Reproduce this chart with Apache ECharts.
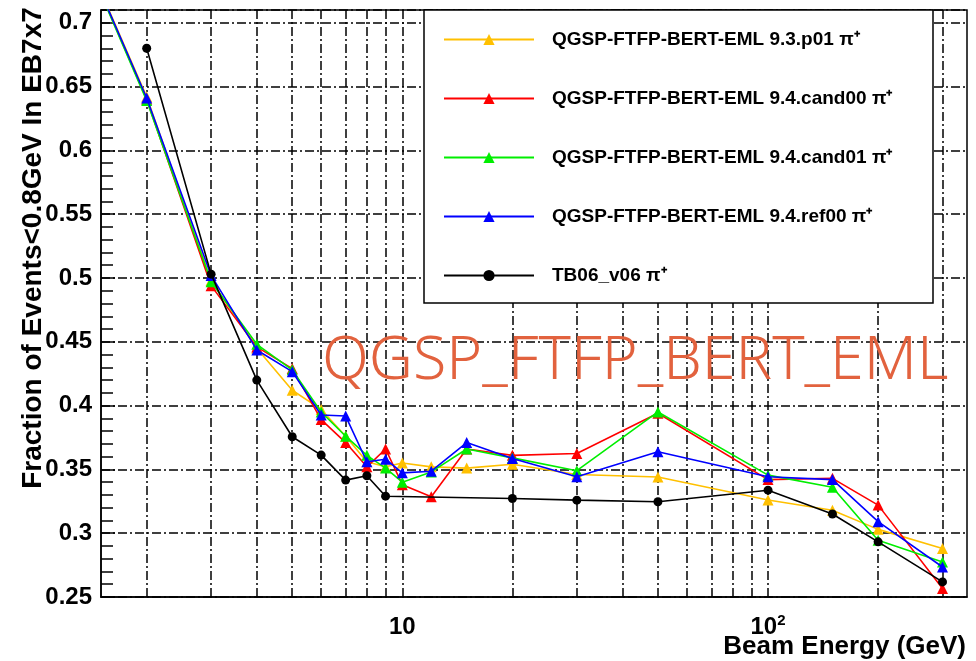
<!DOCTYPE html>
<html>
<head>
<meta charset="utf-8">
<script src="https://cdn.jsdelivr.net/npm/echarts@6/dist/echarts.min.js"></script>
<style>
  html, body { margin: 0; padding: 0; background: #fff; }
  #chart { width: 976px; height: 661px; }
</style>
</head>
<body>
<div id="chart"></div>
<script>
// Beam energies (GeV) for the simulated samples and for the test-beam data
const energies = [1, 2, 3, 4, 5, 6, 7, 8, 9, 10, 12, 15, 20, 30, 50, 100, 150, 200, 300];
const energiesTB = [2, 3, 4, 5, 6, 7, 8, 9, 20, 30, 50, 100, 150, 200, 300];

// Fraction of events with E < 0.8 GeV in EB7x7
const v93p01   = [0.84, 0.642, 0.498, 0.445, 0.412, 0.397, 0.376, 0.356, 0.352, 0.355, 0.352, 0.351, 0.354, 0.346, 0.344, 0.326, 0.318, 0.303, 0.288];
const v94cand00 = [0.84, 0.640, 0.494, 0.446, 0.429, 0.389, 0.371, 0.352, 0.366, 0.338, 0.3285, 0.366, 0.361, 0.3625, 0.394, 0.342, 0.343, 0.322, 0.2566];
const v94cand01 = [0.84, 0.639, 0.497, 0.448, 0.428, 0.395, 0.376, 0.361, 0.351, 0.340, 0.348, 0.366, 0.359, 0.349, 0.395, 0.3455, 0.336, 0.2945, 0.2775];
const v94ref00  = [0.84, 0.641, 0.502, 0.4436, 0.4266, 0.3926, 0.3918, 0.356, 0.358, 0.3473, 0.3486, 0.371, 0.3586, 0.3442, 0.3638, 0.3442, 0.342, 0.309, 0.2735];
const vTB06     = [0.680, 0.503, 0.420, 0.3756, 0.3612, 0.3416, 0.345, 0.329, 0.3272, 0.3259, 0.3246, 0.3337, 0.315, 0.2932, 0.2618];

const seriesNames = [
  'QGSP-FTFP-BERT-EML 9.3.p01 π⁺',
  'QGSP-FTFP-BERT-EML 9.4.cand00 π⁺',
  'QGSP-FTFP-BERT-EML 9.4.cand01 π⁺',
  'QGSP-FTFP-BERT-EML 9.4.ref00 π⁺',
  'TB06_v06 π⁺'
];
const seriesColors = ['#ffc000', '#ff0000', '#00ee00', '#0000ff', '#000000'];

// Vertical grid positions on the log axis
const gridEnergies = [2, 3, 4, 5, 6, 7, 8, 9, 10, 20, 30, 40, 50, 60, 70, 80, 90, 100, 200, 300];

const xMin = 1.5, xMax = 350;
const yMin = 0.25, yMax = 0.71;

const pair = (xs, ys) => xs.map((x, i) => [x, ys[i]]);

const dashDot = [9, 3, 2, 3];

function curve(idx, xs, ys, symbol, size) {
  return {
    name: seriesNames[idx],
    type: 'line',
    data: pair(xs, ys),
    symbol: symbol,
    symbolSize: size,
    clip: true,
    color: seriesColors[idx],
    lineStyle: { width: 1.6, color: seriesColors[idx] },
    itemStyle: { color: seriesColors[idx] },
    z: 10 + idx
  };
}

const chart = echarts.init(document.getElementById('chart'), null, { renderer: 'canvas' });

chart.setOption({
  animation: false,
  backgroundColor: '#ffffff',
  grid: {
    left: 101, top: 10, right: 9, bottom: 64,
    show: true, borderColor: '#000', borderWidth: 1.5, backgroundColor: 'transparent'
  },
  xAxis: {
    type: 'log', logBase: 10, min: xMin, max: xMax,
    axisLine: { show: true, lineStyle: { color: '#000', width: 1.5 } },
    axisTick: { show: false },
    splitLine: { show: false },
    axisLabel: {
      margin: 16,
      color: '#000',
      fontFamily: 'Liberation Sans, Arial, sans-serif',
      fontWeight: 'bold',
      fontSize: 24,
      formatter: v => {
        if (Math.abs(v - 10) < 1e-6) return '{b|10}';
        if (Math.abs(v - 100) < 1e-6) return '{b|10}{s|2}';
        return '';
      },
      rich: {
        b: { fontSize: 24, fontWeight: 'bold', color: '#000', lineHeight: 28, fontFamily: 'Liberation Sans, Arial, sans-serif' },
        s: { fontSize: 15, fontWeight: 'bold', color: '#000', lineHeight: 14, verticalAlign: 'top', fontFamily: 'Liberation Sans, Arial, sans-serif' }
      }
    }
  },
  yAxis: [
    {
      type: 'value', min: yMin, max: yMax, interval: 0.05,
      axisLine: { show: true, lineStyle: { color: '#000', width: 1.5 } },
      axisTick: { show: true, inside: true, length: 14, lineStyle: { color: '#000', width: 1.5 } },
      splitLine: { show: true, lineStyle: { color: '#000', width: 1.5, type: dashDot } },
      axisLabel: {
        showMaxLabel: false,
        margin: 9,
        color: '#000',
        fontFamily: 'Liberation Sans, Arial, sans-serif',
        fontWeight: 'bold',
        fontSize: 24
      }
    },
    {
      // fine tick marks every 0.01
      type: 'value', min: yMin, max: yMax, interval: 0.01, position: 'left',
      axisLine: { show: false },
      axisTick: { show: true, inside: true, length: 12, lineStyle: { color: '#000', width: 1.5 } },
      splitLine: { show: false },
      axisLabel: { show: false }
    }
  ],
  legend: {
    data: seriesNames,
    orient: 'vertical',
    left: 438, top: 25,
    z: 100,
    itemWidth: 90, itemHeight: 14, itemGap: 40,
    textStyle: {
      color: '#000',
      fontFamily: 'Liberation Sans, Arial, sans-serif',
      fontWeight: 'bold',
      fontSize: 19,
      padding: [0, 0, 0, 13]
    }
  },
  graphic: [
    {
      type: 'rect', z: 30, silent: true,
      shape: { x: 424, y: 10, width: 509, height: 293 },
      style: { fill: '#fff', stroke: '#000', lineWidth: 1.5 }
    },
    {
      type: 'text', z: 60, silent: true,
      x: 33, y: 248, rotation: Math.PI / 2,
      style: {
        text: 'Fraction of Events<0.8GeV In EB7x7',
        fill: '#000',
        font: 'bold 28px "Liberation Sans", Arial, sans-serif',
        align: 'center', verticalAlign: 'middle'
      }
    },
    {
      type: 'text', z: 60, silent: true,
      x: 966, y: 647,
      style: {
        text: 'Beam Energy (GeV)',
        fill: '#000',
        font: 'bold 26px "Liberation Sans", Arial, sans-serif',
        align: 'right', verticalAlign: 'middle'
      }
    },
    {
      type: 'text', z: 25, silent: true,
      x: 322, y: 362,
      style: {
        text: 'QGSP_FTFP_BERT_EML',
        fill: '#e2623e',
        font: '300 61px "Noto Sans", "Open Sans", sans-serif',
        align: 'left', verticalAlign: 'middle'
      }
    }
  ],
  series: [
    {
      name: 'grid',
      type: 'line',
      data: [],
      silent: true,
      z: 1,
      markLine: {
        silent: true,
        symbol: ['none', 'none'],
        label: { show: false },
        lineStyle: { color: '#000', width: 1.5, type: dashDot },
        data: gridEnergies.map(e => ({ xAxis: e }))
      }
    },
    curve(0, energies, v93p01, 'triangle', 11),
    curve(1, energies, v94cand00, 'triangle', 11),
    curve(2, energies, v94cand01, 'triangle', 11),
    curve(3, energies, v94ref00, 'triangle', 11),
    curve(4, energiesTB, vTB06, 'circle', 9)
  ]
});
</script>
</body>
</html>
